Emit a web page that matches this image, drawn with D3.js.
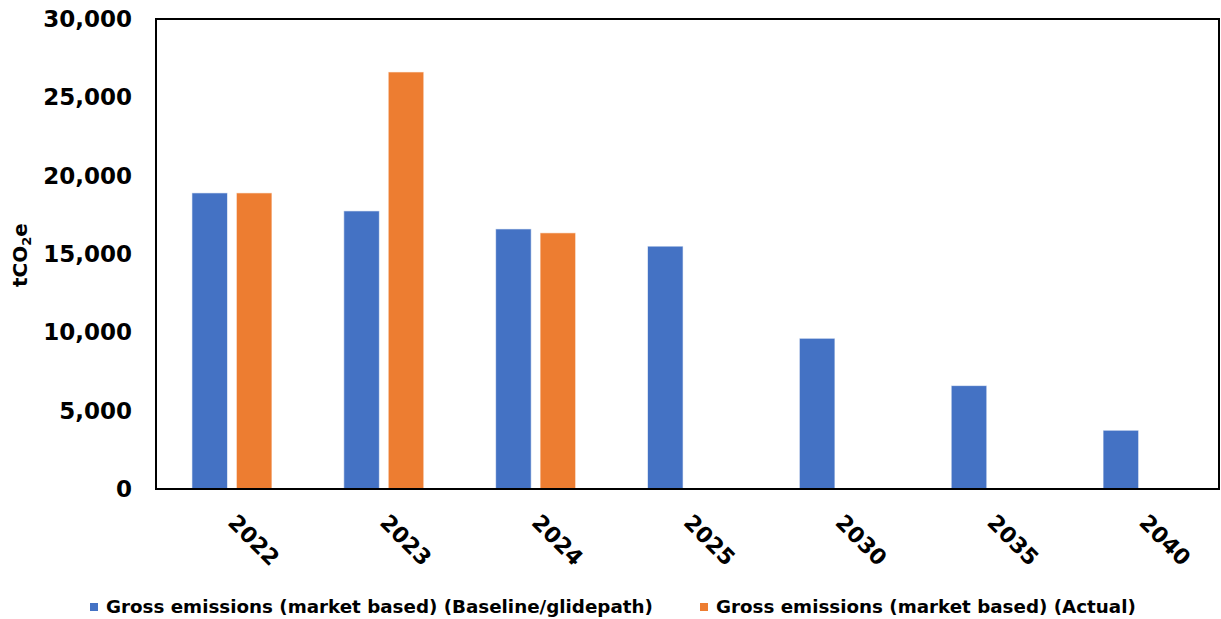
<!DOCTYPE html>
<html>
<head>
<meta charset="utf-8">
<script src="https://cdn.jsdelivr.net/npm/d3@7"></script>
<style>
  html, body { margin: 0; padding: 0; background: #fff; }
  svg { display: block; }
  text { font-family: "DejaVu Sans", sans-serif; font-weight: bold; fill: #000; }
</style>
</head>
<body>
<svg id="chart" width="1221" height="619"></svg>
<script>
const categories = ["2022", "2023", "2024", "2025", "2030", "2035", "2040"];
const baseline = [18900, 17750, 16600, 15500, 9620, 6600, 3750];
const actual = [18900, 26620, 16350, null, null, null, null];
const yTicks = [0, 5000, 10000, 15000, 20000, 25000, 30000];
const seriesNames = ["Gross emissions (market based) (Baseline/glidepath)", "Gross emissions (market based) (Actual)"];
const colors = ["#4472C4", "#ED7D31"];

const svg = d3.select("#chart");
const margin = { left: 156, right: 2, top: 19, bottom: 130 };
const W = 1221, H = 619;
const x0 = margin.left, x1 = W - margin.right, yTop = margin.top, yBot = 489;

const x = d3.scaleBand().domain(categories).range([x0, x1]).paddingInner(0).paddingOuter(0);
const xs = d3.scaleBand().domain([0, 1]).range([-40, 40]).paddingInner(0.2);
const y = d3.scaleLinear().domain([0, 30000]).range([yBot, yTop]);

// bars
const data = [];
categories.forEach((c, i) => {
  [baseline[i], actual[i]].forEach((v, s) => {
    if (v != null) data.push({ c, s, v });
  });
});
svg.append("g").selectAll("rect").data(data).join("rect")
  .attr("x", d => x(d.c) + x.bandwidth() / 2 + xs(d.s))
  .attr("width", xs.bandwidth())
  .attr("y", d => y(d.v))
  .attr("height", d => y(0) - y(d.v))
  .attr("fill", d => colors[d.s])
  .attr("stroke", "#fff")
  .attr("stroke-opacity", 0.6)
  .attr("stroke-width", 1);

// frame
svg.append("rect")
  .attr("x", x0).attr("y", yTop)
  .attr("width", x1 - x0).attr("height", yBot - yTop)
  .attr("fill", "none").attr("stroke", "#000").attr("stroke-width", 2);

// y axis
const yAxis = d3.axisLeft(y).tickValues(yTicks).tickSize(0).tickPadding(24)
  .tickFormat(d3.format(","));
const gy = svg.append("g").attr("transform", `translate(${x0},0)`).call(yAxis);
gy.select(".domain").remove();
gy.selectAll("text").style("font-size", "23px").style("font-family", "DejaVu Sans").style("font-weight", "bold").attr("fill", "#000");

// x axis
const xAxis = d3.axisBottom(x).tickSize(0).tickPadding(0);
const gx = svg.append("g").attr("transform", `translate(0,${yBot})`).call(xAxis);
gx.select(".domain").remove();
gx.selectAll("text")
  .style("font-size", "22px").style("font-family", "DejaVu Sans").style("font-weight", "bold").attr("fill", "#000")
  .attr("text-anchor", "middle")
  .attr("dy", "0.35em")
  .attr("y", 0)
  .attr("transform", "translate(22,51) rotate(45)");

// y title
const yt = svg.append("text")
  .attr("transform", "translate(27,255) rotate(-90)")
  .attr("text-anchor", "middle")
  .style("font-size", "20px");
yt.append("tspan").text("tCO");
yt.append("tspan").text("2").style("font-size", "13px").attr("dy", "4");
yt.append("tspan").text("e").attr("dy", "-4");

// legend
const legendX = [90, 700];
const lg = svg.append("g");
seriesNames.forEach((n, i) => {
  lg.append("rect").attr("x", legendX[i]).attr("y", 603).attr("width", 8).attr("height", 8).attr("fill", colors[i]);
  lg.append("text").attr("x", legendX[i] + 16).attr("y", 613).style("font-size", "18.3px").text(n);
});
</script>
</body>
</html>
